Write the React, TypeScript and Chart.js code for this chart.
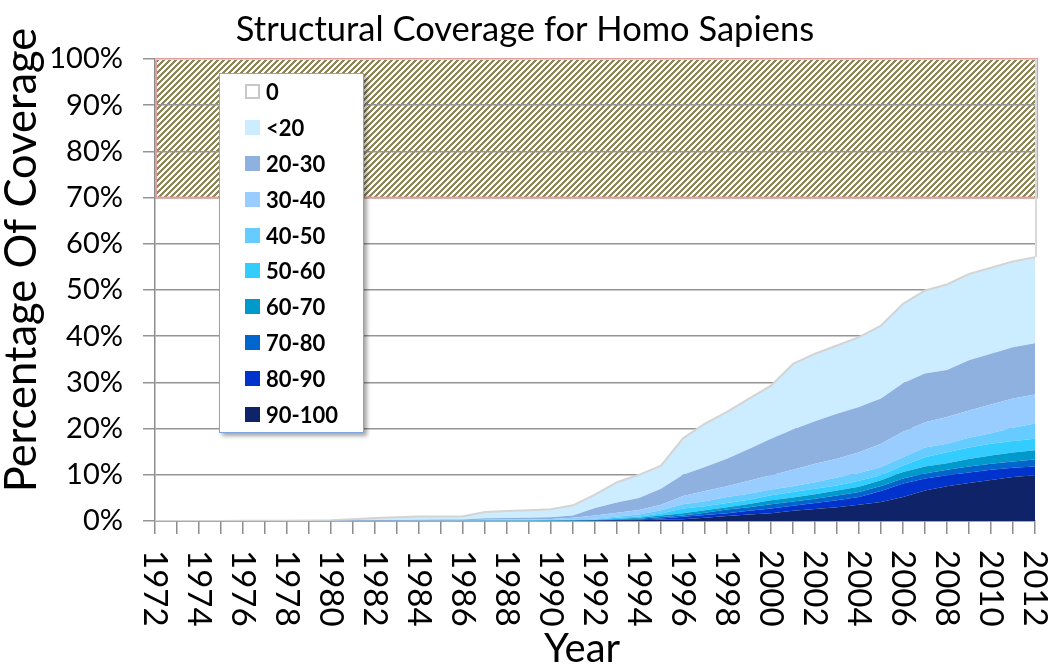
import { useEffect, useRef } from "react"
import { Chart, registerables } from "chart.js"
Chart.register(...registerables)

const years = [
  "1972", "1973", "1974", "1975", "1976", "1977", "1978", "1979", "1980", "1981",
  "1982", "1983", "1984", "1985", "1986", "1987", "1988", "1989", "1990", "1991",
  "1992", "1993", "1994", "1995", "1996", "1997", "1998", "1999", "2000", "2001",
  "2002", "2003", "2004", "2005", "2006", "2007", "2008", "2009", "2010", "2011", "2012",
]

// legend order, top to bottom
const seriesNames = ["0", "<20", "20-30", "30-40", "40-50", "50-60", "60-70", "70-80", "80-90", "90-100"]
const seriesColors = ["#ffffff", "#ccecff", "#8eb1df", "#99ccff", "#66ccff", "#33ccff", "#0099cc", "#0066cc", "#0033cc", "#0e2368"]

// percentage of coverage per band, 1972..2012
const zero = [100, 100, 100, 99.98, 99.97, 99.95, 99.93, 99.9, 99.85, 99.6, 99.35, 99.2, 99.05, 99.0, 98.95, 98.05, 97.85, 97.65, 97.45, 96.6, 94.3, 91.6, 90, 88, 82.1, 78.9, 76.4, 73.5, 70.7, 66, 63.8, 62, 60.2, 57.7, 53, 50.1, 48.8, 46.5, 45.2, 43.8, 42.9]
const lt20 = [0, 0, 0, 0.02, 0.03, 0.05, 0.07, 0.1, 0.1, 0.3, 0.47, 0.58, 0.68, 0.7, 0.7, 1.35, 1.5, 1.65, 1.75, 2.2, 2.9, 4.4, 5.0, 5.0, 7.9, 9.4, 10.1, 10.9, 11.5, 14.2, 14.6, 14.8, 15.1, 15.8, 17.2, 18.0, 18.5, 18.7, 18.6, 18.6, 18.6]
const r20 = [0, 0, 0, 0, 0, 0, 0, 0, 0.05, 0.1, 0.13, 0.15, 0.17, 0.18, 0.2, 0.35, 0.35, 0.35, 0.35, 0.5, 1.6, 2.2, 2.6, 3.5, 4.6, 5.2, 6.0, 6.9, 7.9, 8.7, 9.2, 9.7, 9.8, 9.8, 10.5, 10.5, 10.2, 10.9, 11.0, 11.1, 11.1]
const r30 = [0, 0, 0, 0, 0, 0, 0, 0, 0, 0, 0.05, 0.07, 0.1, 0.12, 0.1, 0.15, 0.18, 0.2, 0.25, 0.4, 0.7, 0.8, 1.0, 1.2, 1.8, 2.2, 2.3, 2.8, 3.1, 3.6, 4.0, 4.1, 4.5, 5.0, 5.5, 5.5, 5.8, 5.9, 6.2, 6.3, 6.3]
const r40 = [0, 0, 0, 0, 0, 0, 0, 0, 0, 0, 0, 0, 0, 0, 0.05, 0.05, 0.06, 0.07, 0.1, 0.15, 0.2, 0.3, 0.4, 0.7, 0.9, 1.1, 1.3, 1.3, 1.2, 1.2, 1.4, 1.7, 1.7, 1.8, 1.8, 2.1, 1.8, 2.1, 2.3, 2.9, 3.3]
const r50 = [0, 0, 0, 0, 0, 0, 0, 0, 0, 0, 0, 0, 0, 0, 0, 0.05, 0.06, 0.08, 0.05, 0.05, 0.1, 0.25, 0.3, 0.4, 1.0, 0.9, 0.9, 0.9, 1.1, 1.2, 1.2, 1.1, 1.3, 1.1, 1.4, 2.0, 2.4, 2.5, 2.5, 2.5, 2.5]
const r60 = [0, 0, 0, 0, 0, 0, 0, 0, 0, 0, 0, 0, 0, 0, 0, 0, 0, 0, 0.05, 0.05, 0.08, 0.15, 0.2, 0.35, 0.5, 0.5, 0.5, 0.7, 0.9, 0.9, 1.0, 1.1, 1.1, 1.2, 1.4, 1.5, 1.4, 1.6, 1.8, 1.9, 2.0]
const r70 = [0, 0, 0, 0, 0, 0, 0, 0, 0, 0, 0, 0, 0, 0, 0, 0, 0, 0, 0, 0.05, 0.04, 0.1, 0.2, 0.3, 0.3, 0.5, 0.8, 0.8, 0.9, 0.9, 0.9, 1.0, 1.1, 1.1, 1.1, 1.1, 1.2, 1.3, 1.3, 1.4, 1.5]
const r80 = [0, 0, 0, 0, 0, 0, 0, 0, 0, 0, 0, 0, 0, 0, 0, 0, 0, 0, 0, 0, 0.03, 0.1, 0.15, 0.25, 0.5, 0.6, 0.6, 0.8, 1.0, 1.1, 1.3, 1.5, 1.7, 2.4, 2.9, 2.6, 2.4, 2.3, 2.2, 2.0, 1.9]
const r90 = [0, 0, 0, 0, 0, 0, 0, 0, 0, 0, 0, 0, 0, 0, 0, 0, 0, 0, 0, 0, 0.05, 0.1, 0.15, 0.3, 0.4, 0.7, 1.1, 1.4, 1.7, 2.2, 2.6, 3.0, 3.5, 4.1, 5.2, 6.6, 7.5, 8.2, 8.9, 9.5, 9.9]

const seriesValues = [zero, lt20, r20, r30, r40, r50, r60, r70, r80, r90]

// the hatched band at the top
const bandFrom = 70
const bandTo = 100

const FONT = "Lato, 'Noto Sans', sans-serif"

// crisp "/" stripes, 6px apart
function hatch(ctx: CanvasRenderingContext2D) {
  const c = document.createElement("canvas")
  c.width = 6
  c.height = 6
  const p = c.getContext("2d")!
  p.fillStyle = "#ffffff"
  p.fillRect(0, 0, 6, 6)
  p.fillStyle = "#8e875a"
  for (let y = 0; y < 6; y++) {
    for (let x = 0; x < 6; x++) {
      if ((x + y) % 6 < 3) p.fillRect(x, y, 1, 1)
    }
  }
  return ctx.createPattern(c, "repeat")!
}

const decor = {
  id: "decor",
  beforeDraw(chart: any) {
    const { ctx, chartArea, scales } = chart
    const top = scales.y.getPixelForValue(bandTo)
    const bottom = scales.y.getPixelForValue(bandFrom)
    ctx.save()
    ctx.fillStyle = hatch(ctx)
    ctx.fillRect(chartArea.left, top, chartArea.right + 2 - chartArea.left, bottom - top)
    ctx.restore()
  },
  beforeDatasetsDraw(chart: any) {
    const { ctx, chartArea, scales } = chart
    const top = scales.y.getPixelForValue(bandTo)
    const bottom = scales.y.getPixelForValue(bandFrom)
    ctx.save()
    ctx.strokeStyle = "#e59c9c"
    ctx.lineWidth = 2
    ctx.strokeRect(chartArea.left + 1, top, chartArea.right + 1 - chartArea.left, bottom - top)
    ctx.restore()
  },
  afterDatasetsDraw(chart: any) {
    // right-hand edge of the "0" area
    const n = chart.data.datasets.length
    const topPt = chart.getDatasetMeta(n - 1).data[years.length - 1]
    const basePt = chart.getDatasetMeta(n - 2).data[years.length - 1]
    if (!topPt || !basePt) return
    const { ctx } = chart
    ctx.save()
    ctx.strokeStyle = "#dadada"
    ctx.lineWidth = 2
    ctx.beginPath()
    ctx.moveTo(topPt.x + 1, topPt.y)
    ctx.lineTo(basePt.x + 1, basePt.y)
    ctx.stroke()
    ctx.restore()
  },
  afterDraw(chart: any) {
    const { ctx, scales } = chart
    ctx.save()
    ctx.fillStyle = "#000"

    // year labels, rotated clockwise, every second year
    ctx.font = `33px ${FONT}`
    ctx.textAlign = "left"
    ctx.textBaseline = "middle"
    years.forEach((yr, i) => {
      if (i % 2) return
      ctx.save()
      ctx.translate(scales.x.getPixelForTick(i), 550)
      ctx.rotate(Math.PI / 2)
      ctx.fillText(yr, 0, 0)
      ctx.restore()
    })

    ctx.textAlign = "center"
    ctx.textBaseline = "alphabetic"
    ctx.font = `34.5px ${FONT}`
    ctx.fillText("Structural Coverage for Homo Sapiens", 525, 41)

    ctx.font = `40px ${FONT}`
    ctx.fillText("Year", 582, 662)

    ctx.font = `43.5px ${FONT}`
    ctx.translate(36, 260)
    ctx.rotate(-Math.PI / 2)
    ctx.fillText("Percentage Of Coverage", 0, 0)
    ctx.restore()
  },
}

export default function App() {
  const chartRef = useRef<HTMLCanvasElement>(null)
  const chartInstance = useRef<Chart | null>(null)

  useEffect(() => {
    if (!chartRef.current) return
    if (chartInstance.current) chartInstance.current.destroy()
    const ctx = chartRef.current.getContext("2d")
    if (!ctx) return

    Chart.defaults.font.family = FONT

    // bottom band first so it sits at the base of the stack
    const datasets = seriesNames
      .map((name, i) => ({
        label: name,
        data: seriesValues[i],
        backgroundColor: i === 0 ? "rgba(255,255,255,0)" : seriesColors[i],
        borderColor: i <= 1 ? "#d4d4d4" : seriesColors[i],
        borderWidth: i <= 1 ? 2 : 0,
        pointRadius: 0,
        tension: 0,
      }))
      .reverse()
      .map((d, i) => ({ ...d, fill: i === 0 ? "origin" : "-1" }))

    chartInstance.current = new Chart(ctx, {
      type: "line",
      data: { labels: years, datasets },
      plugins: [decor],
      options: {
        animation: false,
        responsive: true,
        maintainAspectRatio: false,
        layout: { padding: { top: 59, right: 15, left: 0, bottom: 0 } },
        scales: {
          x: {
            ticks: { display: false, autoSkip: false },
            grid: { drawOnChartArea: false, drawTicks: true, tickLength: 13, color: "#8c8c8c", lineWidth: 1.5 },
            border: { display: true, color: "#8c8c8c", width: 1.5 },
            afterFit: (s: any) => { s.height = 143 },
          },
          y: {
            stacked: true,
            min: 0,
            max: 100,
            ticks: {
              stepSize: 10,
              padding: 20,
              color: "#000",
              font: { size: 29 },
              callback: (v: any) => `${v}%`,
            },
            grid: { color: "#959595", lineWidth: 1.5, tickLength: 12 },
            border: { display: true, color: "#8c8c8c", width: 1.5 },
            afterFit: (s: any) => { s.width = 155 },
          },
        },
        plugins: {
          legend: { display: false },
          title: { display: false },
          tooltip: { enabled: false },
        },
      },
    })

    return () => {
      if (chartInstance.current) {
        chartInstance.current.destroy()
        chartInstance.current = null
      }
    }
  }, [])

  return (
    <div style={{ position: "fixed", left: 0, top: 0, width: 1050, height: 664, background: "#fff" }}>
      <canvas ref={chartRef}></canvas>
      <div
        style={{
          position: "absolute",
          left: 219,
          top: 73,
          width: 143,
          height: 358,
          background: "#fff",
          border: "1.5px solid #7fa6e3",
          boxShadow: "3px 3px 4px rgba(0,0,0,0.35)",
          fontFamily: FONT,
          fontWeight: 700,
          fontSize: 22,
        }}
      >
        {seriesNames.map((name, i) => (
          <div key={name} style={{ height: 35.8, display: "flex", alignItems: "center" }}>
            <span
              style={{
                display: "inline-block",
                marginLeft: 25,
                width: i === 0 ? 11 : 15,
                height: i === 0 ? 11 : 15,
                background: seriesColors[i],
                border: i === 0 ? "2px solid #c8c8c8" : "none",
              }}
            />
            <span style={{ marginLeft: 6 }}>{name}</span>
          </div>
        ))}
      </div>
    </div>
  )
}
